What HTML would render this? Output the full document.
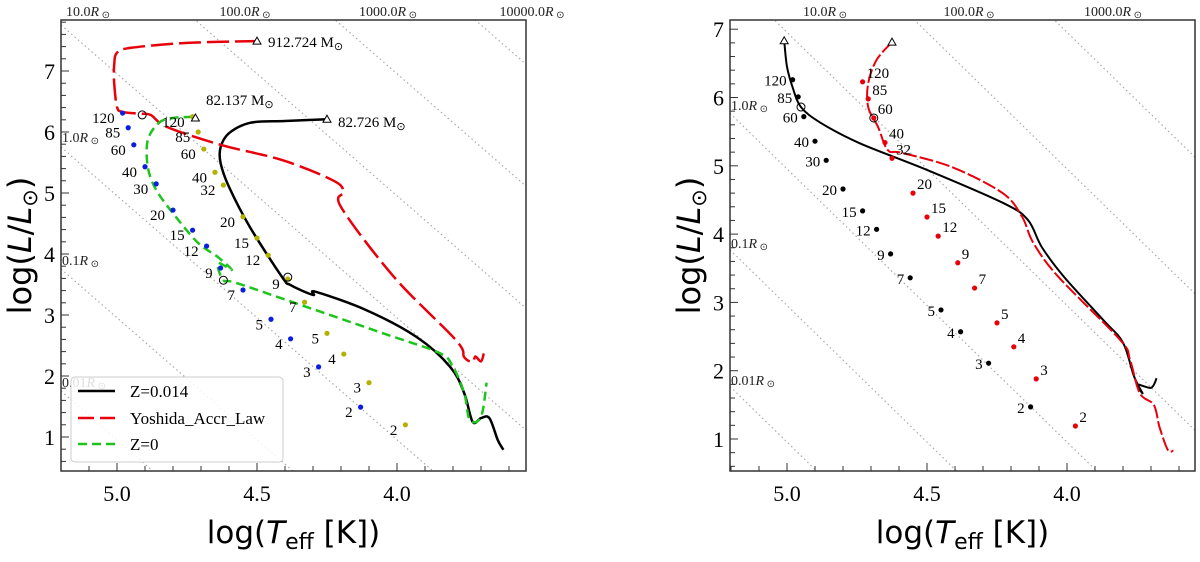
<!DOCTYPE html>
<html><head><meta charset="utf-8"><style>
body{margin:0;background:#fff;width:1200px;height:562px;overflow:hidden}
svg{position:absolute;left:0;top:0;overflow:hidden}
text{font-family:"Liberation Serif",serif}
.sans{font-family:"DejaVu Sans","Liberation Sans",sans-serif}
</style></head><body>
<svg id="chart" width="1200" height="562"></svg>
<script>
// ---------- data (logTeff, logL) ----------
const leftRedT=[4.5,4.75,4.95,5.0,5.01,5.01,5.0,4.98,4.92,4.88,4.82,4.63,4.41,4.23,4.19,4.20,4.01,3.79,3.76,3.73,3.72,3.70,3.69];
const leftRedL=[7.49,7.46,7.38,7.3,7.1,6.8,6.41,6.33,6.3,6.28,6.08,5.79,5.54,5.21,5.02,4.77,3.62,2.59,2.31,2.23,2.32,2.24,2.37];
const leftBlackT=[4.25,4.40,4.525,4.60,4.63,4.63,4.60,4.525,4.41,4.38,4.30,4.29,4.11,3.93,3.81,3.76,3.73,3.70,3.67,3.64,3.62];
const leftBlackL=[6.21,6.18,6.15,5.98,5.75,5.49,5.1,4.44,3.62,3.49,3.33,3.38,3.08,2.64,2.15,1.72,1.25,1.31,1.31,0.95,0.79];
const leftGreenT=[4.73,4.80,4.85,4.89,4.89,4.86,4.79,4.71,4.64,4.59,4.64,4.62,4.57,4.29,4.05,3.85,3.80,3.76,3.74,3.70,3.68];
const leftGreenL=[6.25,6.23,6.15,5.87,5.43,5.05,4.61,4.18,3.95,3.74,3.85,3.57,3.52,3.08,2.70,2.38,2.15,1.72,1.28,1.33,1.89];
const masses=["120","85","60","40","30","20","15","12","9","7","5","4","3","2"];
const blueT=[4.98,4.96,4.94,4.90,4.86,4.80,4.73,4.68,4.63,4.55,4.45,4.38,4.28,4.13];
const blueL=[6.31,6.07,5.79,5.43,5.15,4.72,4.39,4.13,3.77,3.41,2.93,2.61,2.15,1.49];
const massesB=["120","85","60","40","32","20","15","12","9","7","5","4","3","2"];
const yellowT=[4.73,4.71,4.69,4.65,4.62,4.55,4.5,4.46,4.39,4.33,4.25,4.19,4.10,3.97];
const yellowL=[6.25,6.00,5.72,5.34,5.13,4.61,4.26,3.98,3.59,3.21,2.70,2.36,1.89,1.20];

const rightBlackT=[5.01,5.0,4.98,4.95,4.88,4.74,4.5,4.23,4.14,4.09,4.01,3.87,3.80,3.76,3.73,3.75,3.70,3.68];
const rightBlackL=[6.83,6.45,6.15,5.86,5.63,5.33,4.94,4.46,4.21,3.81,3.37,2.74,2.41,1.91,1.67,1.80,1.75,1.89];
const rightRedT=[4.625,4.68,4.71,4.71,4.675,4.64,4.59,4.41,4.23,4.16,4.12,4.03,3.81,3.775,3.74,3.69,3.67,3.64,3.62];
const rightRedL=[6.81,6.55,6.21,5.86,5.57,5.23,5.19,4.98,4.6,4.25,3.87,3.37,2.45,2.16,1.67,1.50,1.18,0.84,0.83];
const rBlackT=[4.98,4.96,4.94,4.90,4.86,4.80,4.73,4.68,4.63,4.56,4.45,4.38,4.28,4.13];
const rBlackL=[6.26,6.01,5.72,5.36,5.08,4.66,4.34,4.07,3.71,3.36,2.89,2.57,2.11,1.47];
const rRedT=[4.73,4.71,4.69,4.65,4.625,4.55,4.5,4.46,4.39,4.33,4.25,4.19,4.11,3.97];
const rRedL=[6.23,5.98,5.70,5.34,5.11,4.60,4.25,3.97,3.58,3.21,2.70,2.35,1.88,1.19];
const xTicks=[5.0,4.5,4.0];
const yTicks=[1,2,3,4,5,6,7];
const radii=[0.01,0.1,1,10,100,1000,10000];

const NS="http://www.w3.org/2000/svg";
const svg=document.getElementById('chart');
function mk(tag,attrs,parent,txt){const e=document.createElementNS(NS,tag);for(const k in attrs)e.setAttribute(k,attrs[k]);if(txt!==undefined)e.textContent=txt;(parent||svg).appendChild(e);return e;}
function smooth(pts){
  let d='M'+pts[0][0].toFixed(1)+','+pts[0][1].toFixed(1);
  for(let i=0;i<pts.length-1;i++){
    const p0=pts[i-1]||pts[i],p1=pts[i],p2=pts[i+1],p3=pts[i+2]||p2;
    const c1=[p1[0]+(p2[0]-p0[0])/6,p1[1]+(p2[1]-p0[1])/6],c2=[p2[0]-(p3[0]-p1[0])/6,p2[1]-(p3[1]-p1[1])/6];
    d+=`C${c1[0].toFixed(1)},${c1[1].toFixed(1)} ${c2[0].toFixed(1)},${c2[1].toFixed(1)} ${p2[0].toFixed(1)},${p2[1].toFixed(1)}`;
  }
  return d;
}

function panel(P){
  const g=mk('g',{});
  
  
  const X=t=>P.x0+(5.0-t)*280, Y=l=>P.y1-(l-1)*P.ky;
  const tLeft=5.0+(P.x0-P.L)/280, tRight=5.0-(P.R-P.x0)/280;
  mk('clipPath',{id:'c'+P.id},g);
  mk('rect',{x:P.L,y:P.T,width:P.R-P.L,height:P.B-P.T},g.lastChild);
  const inner=mk('g',{'clip-path':'url(#c'+P.id+')'},g);
  radii.forEach(r=>{
    const f=t=>2*Math.log10(r)+4*(t-3.7613);
    const ln=mk('line',{x1:X(tLeft),y1:Y(f(tLeft)),x2:X(tRight),y2:Y(f(tRight)),stroke:'#aaa','stroke-width':1.2,'stroke-dasharray':'1.5,3'},inner);
    
    
  });
  P.tracks.forEach(tr=>{
    const pts=tr.T.map((t,i)=>[X(t),Y(tr.L[i])]);
    const p=mk('path',{d:smooth(pts),fill:'none',stroke:tr.c,'stroke-width':tr.w,'stroke-dasharray':tr.dash||'none','stroke-linejoin':'round'},inner);
    
    
  });
  P.dots.forEach(ds=>{
    ds.T.forEach((t,i)=>{
      const c=mk('circle',{cx:X(t),cy:Y(ds.L[i]),r:2.6,fill:ds.c},inner);
      
      
      const tx=mk('text',{x:X(t)+ds.dx,y:Y(ds.L[i])+ds.dy,'font-size':15,'text-anchor':ds.anchor,fill:'#000'},inner,ds.m[i]);
      
      
    });
  });
  P.circles.forEach(c=>{const e=mk('circle',{cx:X(c[0]),cy:Y(c[1]),r:4,fill:'none',stroke:'#000','stroke-width':1},inner);
    });
  P.tris.forEach(c=>{const x=X(c[0]),y=Y(c[1]);const e=mk('path',{d:`M${x},${y-4}L${x+4},${y+3}L${x-4},${y+3}Z`,fill:'#fff',stroke:'#000','stroke-width':1},inner);
    });
  const fr=mk('rect',{x:P.L,y:P.T,width:P.R-P.L,height:P.B-P.T,fill:'none',stroke:'#333','stroke-width':1.5},g);
  
  for(let t=5.2;t>=3.5;t-=0.1){const x=X(t);if(x<P.L+1||x>P.R-1)continue;const major=Math.abs(t*2-Math.round(t*2))<1e-6;
    mk('line',{x1:x,y1:P.B,x2:x,y2:P.B-(major?8:5),stroke:'#333','stroke-width':1},g);}
  xTicks.forEach(t=>{const e=mk('text',{x:X(t),y:P.B+30,'font-size':22,'text-anchor':'middle'},g,t.toFixed(1));
    });
  for(let l=0;l<=8;l+=0.2){const y=Y(l);if(y<P.T+1||y>P.B-1)continue;const major=Math.abs(l-Math.round(l))<1e-6;
    mk('line',{x1:P.L,y1:y,x2:P.L+(major?8:5),y2:y,stroke:'#333','stroke-width':1},g);}
  yTicks.forEach(l=>{const y=Y(l);if(y<P.T||y>P.B)return;const e=mk('text',{x:P.L-6,y:y+8,'font-size':22,'text-anchor':'end'},g,String(l));
    });
  P.topLabels.forEach(a=>{const e=mk('text',{x:a[1],y:16,'font-size':14,'text-anchor':'middle',fill:'#222'},g);
    e.innerHTML=a[0]+'<tspan font-style="italic">R</tspan><tspan font-size="10" dy="2"> ⊙</tspan>';
    });
  P.sideLabels.forEach(a=>{const e=mk('text',{x:P.L+1,y:a[1],'font-size':14,fill:'#222'},g);
    e.innerHTML=a[0]+'<tspan font-style="italic">R</tspan><tspan font-size="10" dy="2"> ⊙</tspan>';
    });
  const xl=mk('text',{x:(P.L+P.R)/2,y:543,'font-size':31,'text-anchor':'middle',class:'sans'},g);
  xl.innerHTML='log(<tspan font-style="italic">T</tspan><tspan font-size="22" dy="6">eff</tspan><tspan dy="-6"> [K])</tspan>';
  
  const yl=mk('text',{x:0,y:0,'font-size':32,'text-anchor':'middle',class:'sans',transform:`translate(${P.L-30},${(P.T+P.B)/2}) rotate(-90)`},g);
  yl.innerHTML='log(<tspan font-style="italic">L</tspan>/<tspan font-style="italic">L</tspan><tspan font-size="21" dy="6">⊙</tspan><tspan dy="-6">)</tspan>';
  
  return {g,X,Y};
}

const A=panel({id:'a',name:'left-panel',L:61,R:526,T:20,B:471,x0:117,y1:437,ky:61,
  tracks:[
   {name:'z0014-track',T:leftBlackT,L:leftBlackL,c:'#000',w:2.5},
   {name:'yoshida-track',T:leftRedT,L:leftRedL,c:'#e8000b',w:2.5,dash:'22,6'},
   {name:'z0-track',T:leftGreenT,L:leftGreenL,c:'#1ec41e',w:2.5,dash:'9,5'}],
  dots:[{T:blueT,L:blueL,c:'#0a1ee0',m:masses,dx:-8,dy:10,anchor:'end'},
        {T:yellowT,L:yellowL,c:'#b5b000',m:massesB,dx:-8,dy:10,anchor:'end'}],
  circles:[[4.91,6.28],[4.39,3.62],[4.62,3.57]],
  tris:[[4.5,7.49],[4.25,6.21],[4.72,6.23]],
  topLabels:[['10.0',88],['100.0',245],['1000.0',388],['10000.0',532]],
  sideLabels:[['1.0',142],['0.1',265],['0.01',387]]});
[['912.724 M','⊙',268,47],['82.137 M','⊙',206,105],['82.726 M','⊙',338,127]].forEach(a=>{
  const e=mk('text',{x:a[2],y:a[3],'font-size':15},A.g);e.innerHTML=a[0]+'<tspan font-size="11" dy="3">'+a[1]+'</tspan>';
  });
const lg=mk('g',{},A.g);

mk('rect',{x:71,y:377,width:212,height:85,rx:4,fill:'#fff','fill-opacity':0.85,stroke:'#ccc'},lg);
[['Z=0.014','#000','none',391],['Yoshida_Accr_Law','#e8000b','16,6',418],['Z=0','#1ec41e','9,5',444]].forEach(a=>{
  const l=mk('line',{x1:78,y1:a[3],x2:115,y2:a[3],stroke:a[1],'stroke-width':2.5,'stroke-dasharray':a[2]},lg);
  
  const t=mk('text',{x:130,y:a[3]+6,'font-size':17},lg,a[0]);
  });

const B=panel({id:'b',name:'right-panel',L:730,R:1195,T:20,B:471,x0:787,y1:439,ky:68.3,
  tracks:[
   {name:'black-track',T:rightBlackT,L:rightBlackL,c:'#000',w:2},
   {name:'red-track',T:rightRedT,L:rightRedL,c:'#e8000b',w:2,dash:'14,3'}],
  dots:[{T:rBlackT,L:rBlackL,c:'#000',m:masses,dx:-6,dy:6,anchor:'end'},
        {T:rRedT,L:rRedL,c:'#e8000b',m:massesB,dx:4,dy:-4,anchor:'start'}],
  circles:[[4.95,5.86],[4.69,5.70]],
  tris:[[5.01,6.83],[4.625,6.81]],
  topLabels:[['10.0',825],['100.0',969],['1000.0',1113]],
  sideLabels:[['1.0',110],['0.1',248],['0.01',385]]});
</script>
</body></html>
